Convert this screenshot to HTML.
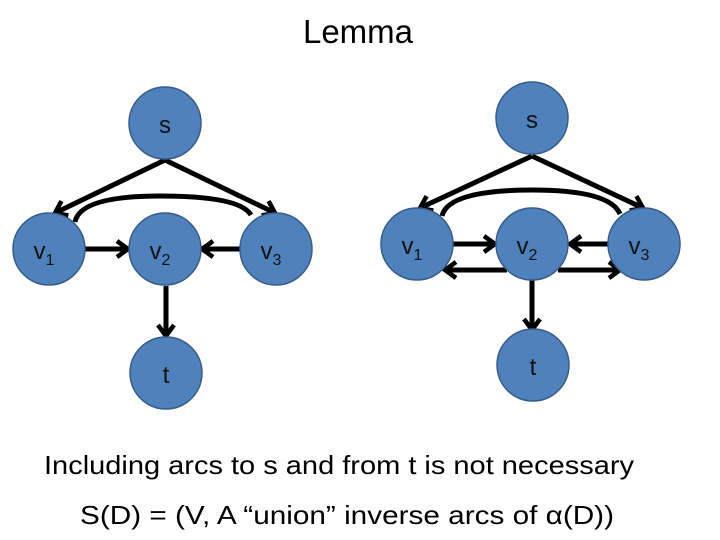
<!DOCTYPE html>
<html><head><meta charset="utf-8"><style>body{margin:0;background:#fff}svg{display:block}</style></head><body>
<svg width="720" height="540" viewBox="0 0 720 540" xmlns="http://www.w3.org/2000/svg">
<defs>
<marker id="a" viewBox="0 0 20 20" refX="17" refY="10" markerWidth="20" markerHeight="20" markerUnits="userSpaceOnUse" orient="auto">
<path d="M6,2 L17,10 L6,18" fill="none" stroke="#000" stroke-width="4.5"/>
</marker>
</defs>
<text x="358" y="43" font-family="Liberation Sans, sans-serif" font-size="33" text-anchor="middle">Lemma</text>
<g stroke="#000" stroke-width="5" fill="none" marker-end="url(#a)">
<!-- left -->
<line x1="165" y1="160" x2="55" y2="213"/>
<line x1="165" y1="160" x2="275" y2="213"/>
<path d="M75,222 Q80,196 160,196 Q240,196 251,215" marker-end="none"/>
<line x1="85" y1="249" x2="128" y2="249"/>
<line x1="240" y1="249" x2="202" y2="249"/>
<line x1="166" y1="286" x2="166" y2="336"/>
<!-- right -->
<line x1="532" y1="156" x2="420" y2="208"/>
<line x1="532" y1="156" x2="643" y2="208"/>
<path d="M442,216 Q448,190 532,190 Q610,190 620,214" marker-end="none"/>
<line x1="453" y1="244" x2="495" y2="244"/>
<line x1="608" y1="244" x2="570" y2="244"/>
<line x1="507" y1="270" x2="445" y2="270"/>
<line x1="558" y1="270" x2="620" y2="270"/>
<line x1="532" y1="280" x2="532" y2="330"/>
</g>
<g fill="#4f81bd" stroke="#385d8a" stroke-width="1.5">
<circle cx="165" cy="123" r="36"/><circle cx="49" cy="249" r="36"/><circle cx="165" cy="249" r="36"/><circle cx="276" cy="249" r="36"/><circle cx="166" cy="373" r="36"/>
<circle cx="532" cy="118" r="36"/><circle cx="417" cy="244" r="36"/><circle cx="532" cy="244" r="36"/><circle cx="644" cy="244" r="36"/><circle cx="533" cy="365" r="36"/>
</g>
<g font-family="Liberation Sans, sans-serif" font-size="24" fill="#111" text-anchor="middle">
<text x="165" y="133">s</text><text x="532" y="128">s</text>
<text x="166" y="383">t</text><text x="533" y="375">t</text>
<text x="44" y="259">v<tspan font-size="16" dy="6">1</tspan></text>
<text x="160" y="259">v<tspan font-size="16" dy="6">2</tspan></text>
<text x="271" y="259">v<tspan font-size="16" dy="6">3</tspan></text>
<text x="412" y="254">v<tspan font-size="16" dy="6">1</tspan></text>
<text x="527" y="254">v<tspan font-size="16" dy="6">2</tspan></text>
<text x="639" y="254">v<tspan font-size="16" dy="6">3</tspan></text>
</g>
<g font-family="Liberation Sans, sans-serif" font-size="26" fill="#000">
<text x="44" y="474" textLength="590" lengthAdjust="spacingAndGlyphs">Including arcs to s and from t is not necessary</text>
<text x="80" y="524" textLength="534" lengthAdjust="spacingAndGlyphs">S(D) = (V, A “union” inverse arcs of α(D))</text>
</g>
</svg>
</body></html>
